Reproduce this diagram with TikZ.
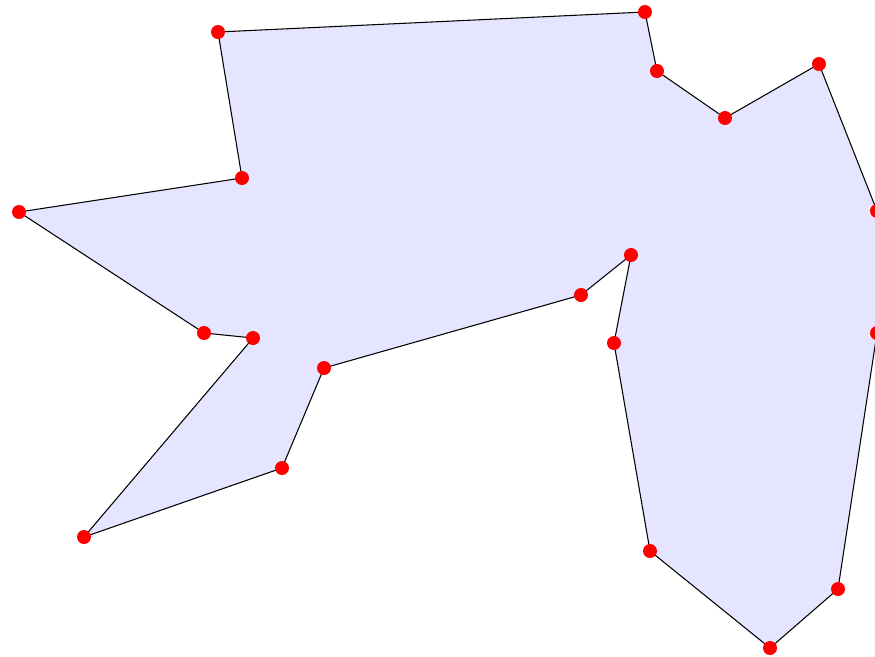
\documentclass[tikz,border=0pt]{standalone}
\usepackage{tikz}

\begin{document}
\begin{tikzpicture}[
  x=0.2mm, y=-0.2mm,
  polyedge/.style={draw=black, line width=0.6pt, fill=blue!10, line join=round},
  polyv/.style={circle, fill=red, minimum size=2.8mm, inner sep=0pt}
]
\useasboundingbox (0,0) rectangle (875,657);
\coordinate (p1) at (218,32);
\coordinate (p2) at (645,12);
\coordinate (p3) at (657,71);
\coordinate (p4) at (725,118);
\coordinate (p5) at (819,64);
\coordinate (p6) at (877,211);
\coordinate (p7) at (877,333);
\coordinate (p8) at (838,589);
\coordinate (p9) at (770,648);
\coordinate (p10) at (650,551);
\coordinate (p11) at (614,343);
\coordinate (p12) at (631,255);
\coordinate (p13) at (581,295);
\coordinate (p14) at (324,368);
\coordinate (p15) at (282,468);
\coordinate (p16) at (84,537);
\coordinate (p17) at (253,338);
\coordinate (p18) at (204,333);
\coordinate (p19) at (19,212);
\coordinate (p20) at (242,178);
\draw[polyedge] (p1) -- (p2) -- (p3) -- (p4) -- (p5) -- (p6) -- (p7) -- (p8) -- (p9) -- (p10)
  -- (p11) -- (p12) -- (p13) -- (p14) -- (p15) -- (p16) -- (p17) -- (p18) -- (p19) -- (p20) -- cycle;
\foreach \i in {1,...,20}
  \node[polyv] (v\i) at (p\i) {};
\end{tikzpicture}
\end{document}
